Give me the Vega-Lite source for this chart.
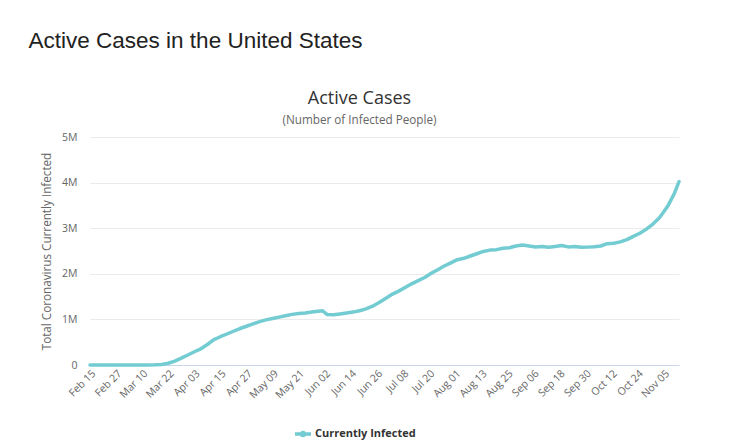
{
  "$schema": "https://vega.github.io/schema/vega-lite/v6.json",
  "background": "white",
  "padding": {"left": 28, "top": 29, "right": 10, "bottom": 5},
  "title": {
    "text": "Active Cases in the United States",
    "anchor": "start",
    "frame": "bounds",
    "font": "Liberation Sans",
    "fontSize": 22.5,
    "fontWeight": "normal",
    "color": "#222222",
    "dx": -13,
    "offset": 38
  },
  "vconcat": [
    {
      "width": 589,
      "height": 228,
      "title": {
        "text": "Active Cases",
        "subtitle": "(Number of Infected People)",
        "anchor": "middle",
        "font": "Open Sans",
        "fontSize": 18,
        "fontWeight": "normal",
        "color": "#333333",
        "subtitleFont": "Open Sans",
        "subtitleFontSize": 11.7,
        "subtitleColor": "#666666",
        "subtitlePadding": 7,
        "dx": -25,
        "offset": 5
      },
      "data": {
        "values": [
          {"date": "2020-02-15", "active": 0},
          {"date": "2020-02-18", "active": 0},
          {"date": "2020-02-21", "active": 0},
          {"date": "2020-02-24", "active": 0},
          {"date": "2020-02-27", "active": 0},
          {"date": "2020-03-01", "active": 100},
          {"date": "2020-03-04", "active": 300},
          {"date": "2020-03-07", "active": 600},
          {"date": "2020-03-10", "active": 1000},
          {"date": "2020-03-13", "active": 2500},
          {"date": "2020-03-16", "active": 5000},
          {"date": "2020-03-19", "active": 13000},
          {"date": "2020-03-22", "active": 38000},
          {"date": "2020-03-25", "active": 85000},
          {"date": "2020-03-28", "active": 150000},
          {"date": "2020-03-31", "active": 220000},
          {"date": "2020-04-03", "active": 290000},
          {"date": "2020-04-06", "active": 355000},
          {"date": "2020-04-09", "active": 450000},
          {"date": "2020-04-12", "active": 555000},
          {"date": "2020-04-15", "active": 620000},
          {"date": "2020-04-18", "active": 680000},
          {"date": "2020-04-21", "active": 740000},
          {"date": "2020-04-24", "active": 800000},
          {"date": "2020-04-27", "active": 850000},
          {"date": "2020-04-30", "active": 900000},
          {"date": "2020-05-03", "active": 950000},
          {"date": "2020-05-06", "active": 990000},
          {"date": "2020-05-09", "active": 1020000},
          {"date": "2020-05-12", "active": 1050000},
          {"date": "2020-05-15", "active": 1080000},
          {"date": "2020-05-18", "active": 1110000},
          {"date": "2020-05-21", "active": 1130000},
          {"date": "2020-05-24", "active": 1140000},
          {"date": "2020-05-27", "active": 1160000},
          {"date": "2020-05-30", "active": 1180000},
          {"date": "2020-06-01", "active": 1190000},
          {"date": "2020-06-03", "active": 1110000},
          {"date": "2020-06-06", "active": 1100000},
          {"date": "2020-06-09", "active": 1120000},
          {"date": "2020-06-12", "active": 1140000},
          {"date": "2020-06-15", "active": 1160000},
          {"date": "2020-06-18", "active": 1190000},
          {"date": "2020-06-21", "active": 1230000},
          {"date": "2020-06-24", "active": 1290000},
          {"date": "2020-06-27", "active": 1370000},
          {"date": "2020-06-30", "active": 1460000},
          {"date": "2020-07-03", "active": 1550000},
          {"date": "2020-07-06", "active": 1620000},
          {"date": "2020-07-09", "active": 1700000},
          {"date": "2020-07-12", "active": 1780000},
          {"date": "2020-07-15", "active": 1850000},
          {"date": "2020-07-18", "active": 1920000},
          {"date": "2020-07-21", "active": 2010000},
          {"date": "2020-07-24", "active": 2090000},
          {"date": "2020-07-27", "active": 2170000},
          {"date": "2020-07-30", "active": 2240000},
          {"date": "2020-08-02", "active": 2310000},
          {"date": "2020-08-05", "active": 2340000},
          {"date": "2020-08-08", "active": 2390000},
          {"date": "2020-08-11", "active": 2440000},
          {"date": "2020-08-14", "active": 2490000},
          {"date": "2020-08-17", "active": 2520000},
          {"date": "2020-08-20", "active": 2530000},
          {"date": "2020-08-23", "active": 2560000},
          {"date": "2020-08-26", "active": 2570000},
          {"date": "2020-08-29", "active": 2610000},
          {"date": "2020-09-01", "active": 2630000},
          {"date": "2020-09-04", "active": 2610000},
          {"date": "2020-09-07", "active": 2590000},
          {"date": "2020-09-10", "active": 2600000},
          {"date": "2020-09-13", "active": 2580000},
          {"date": "2020-09-16", "active": 2600000},
          {"date": "2020-09-19", "active": 2620000},
          {"date": "2020-09-22", "active": 2590000},
          {"date": "2020-09-25", "active": 2600000},
          {"date": "2020-09-28", "active": 2580000},
          {"date": "2020-10-01", "active": 2585000},
          {"date": "2020-10-04", "active": 2595000},
          {"date": "2020-10-07", "active": 2610000},
          {"date": "2020-10-10", "active": 2660000},
          {"date": "2020-10-13", "active": 2670000},
          {"date": "2020-10-16", "active": 2700000},
          {"date": "2020-10-19", "active": 2750000},
          {"date": "2020-10-22", "active": 2820000},
          {"date": "2020-10-25", "active": 2890000},
          {"date": "2020-10-28", "active": 2980000},
          {"date": "2020-10-31", "active": 3090000},
          {"date": "2020-11-03", "active": 3230000},
          {"date": "2020-11-05", "active": 3360000},
          {"date": "2020-11-07", "active": 3500000},
          {"date": "2020-11-09", "active": 3680000},
          {"date": "2020-11-10", "active": 3780000},
          {"date": "2020-11-11", "active": 3900000},
          {"date": "2020-11-12", "active": 4020000}
        ]
      },
      "mark": {"type": "line", "strokeWidth": 3.5, "strokeCap": "round", "strokeJoin": "round"},
      "encoding": {
        "x": {
          "field": "date",
          "type": "temporal",
          "scale": {
            "type": "utc",
            "domain": [
              {"year": 2020, "month": "feb", "date": 15, "utc": true},
              {"year": 2020, "month": "nov", "date": 12, "utc": true}
            ],
            "nice": false
          },
          "axis": {
            "title": null,
            "format": "%b %d",
            "values": [
              {"year": 2020, "month": "feb", "date": 15, "utc": true},
              {"year": 2020, "month": "feb", "date": 27, "utc": true},
              {"year": 2020, "month": "mar", "date": 10, "utc": true},
              {"year": 2020, "month": "mar", "date": 22, "utc": true},
              {"year": 2020, "month": "apr", "date": 3, "utc": true},
              {"year": 2020, "month": "apr", "date": 15, "utc": true},
              {"year": 2020, "month": "apr", "date": 27, "utc": true},
              {"year": 2020, "month": "may", "date": 9, "utc": true},
              {"year": 2020, "month": "may", "date": 21, "utc": true},
              {"year": 2020, "month": "jun", "date": 2, "utc": true},
              {"year": 2020, "month": "jun", "date": 14, "utc": true},
              {"year": 2020, "month": "jun", "date": 26, "utc": true},
              {"year": 2020, "month": "jul", "date": 8, "utc": true},
              {"year": 2020, "month": "jul", "date": 20, "utc": true},
              {"year": 2020, "month": "aug", "date": 1, "utc": true},
              {"year": 2020, "month": "aug", "date": 13, "utc": true},
              {"year": 2020, "month": "aug", "date": 25, "utc": true},
              {"year": 2020, "month": "sep", "date": 6, "utc": true},
              {"year": 2020, "month": "sep", "date": 18, "utc": true},
              {"year": 2020, "month": "sep", "date": 30, "utc": true},
              {"year": 2020, "month": "oct", "date": 12, "utc": true},
              {"year": 2020, "month": "oct", "date": 24, "utc": true},
              {"year": 2020, "month": "nov", "date": 5, "utc": true}
            ],
            "labelAngle": -45,
            "labelFont": "Open Sans",
            "labelFontSize": 10.5,
            "labelColor": "#666666",
            "labelPadding": 3,
            "labelOverlap": false,
            "labelFlush": false,
            "grid": false,
            "ticks": false,
            "domainColor": "#ccd6eb",
            "domainWidth": 1
          }
        },
        "y": {
          "field": "active",
          "type": "quantitative",
          "scale": {"domain": [0, 5000000], "nice": false},
          "axis": {
            "title": "Total Coronavirus Currently Infected",
            "titleFont": "Open Sans",
            "titleFontSize": 11.7,
            "titleFontWeight": "normal",
            "titleColor": "#666666",
            "titlePadding": 9,
            "values": [0, 1000000, 2000000, 3000000, 4000000, 5000000],
            "labelExpr": "datum.value == 0 ? '0' : format(datum.value / 1000000, 'd') + 'M'",
            "labelFont": "Open Sans",
            "labelFontSize": 10.5,
            "labelColor": "#666666",
            "labelPadding": 13,
            "domain": false,
            "ticks": false,
            "grid": true,
            "gridColor": "#ebebeb",
            "gridWidth": 1
          }
        },
        "color": {
          "datum": "Currently Infected",
          "type": "nominal",
          "scale": {"range": ["#72ccd2"]},
          "legend": {
            "title": null,
            "orient": "none",
            "legendX": 205,
            "legendY": 289,
            "labelFont": "Open Sans",
            "labelFontSize": 11,
            "labelFontWeight": "bold",
            "labelColor": "#333333",
            "labelOffset": 4,
            "symbolSize": 256,
            "encode": {
              "symbols": {
                "update": {
                  "shape": {"value": "M-1,-0.22L1,-0.22L1,0.22L-1,0.22Z M0.42,0A0.42,0.42 0 1,1 -0.42,0A0.42,0.42 0 1,1 0.42,0Z"},
                  "fill": {"value": "#72ccd2"},
                  "stroke": {"value": "#72ccd2"},
                  "strokeWidth": {"value": 0},
                  "opacity": {"value": 1}
                }
              }
            }
          }
        }
      }
    }
  ],
  "config": {
    "view": {"stroke": null},
    "font": "Open Sans"
  }
}
